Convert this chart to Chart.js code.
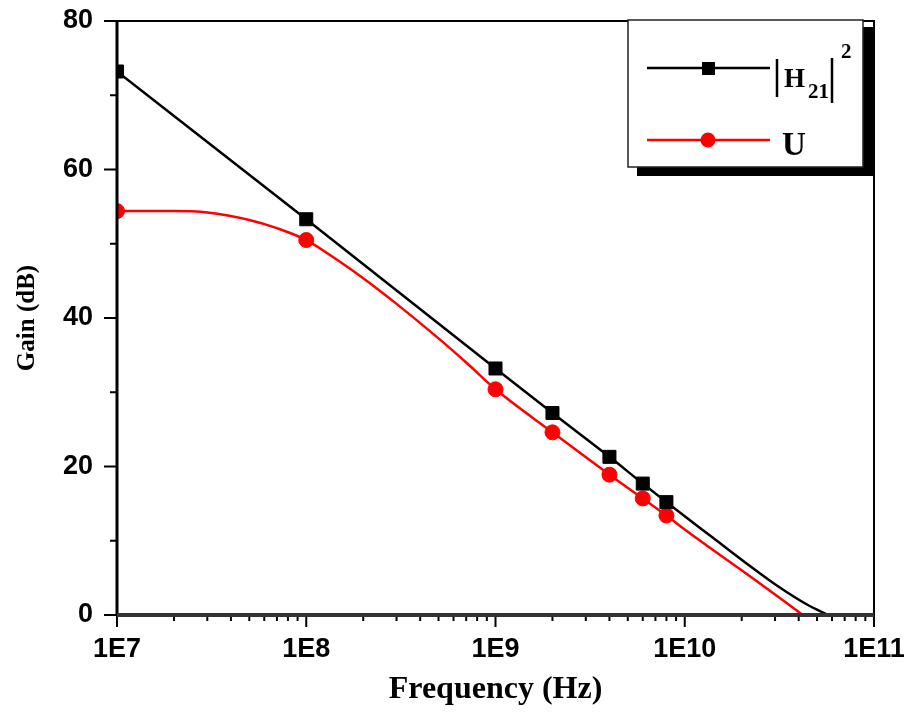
<!DOCTYPE html>
<html>
<head>
<meta charset="utf-8">
<script src="https://cdn.jsdelivr.net/npm/chart.js@4.4.0/dist/chart.umd.min.js"></script>
<style>
  body { margin: 0; background: #fff; }
  #wrap { width: 909px; height: 721px; }
</style>
</head>
<body>
<div id="wrap"><canvas id="gainChart" width="909" height="721"></canvas></div>
<script>
// Marker points (frequency in Hz, gain in dB)
const markerFreq = [1e7, 1e8, 1e9, 2e9, 4e9, 6e9, 8e9];
const h21Gain = [73.2, 53.3, 33.2, 27.2, 21.3, 17.7, 15.2];
const uGain = [54.4, 50.5, 30.4, 24.6, 18.9, 15.7, 13.4];

// Smooth curves
const h21CurveFreq = [1e7, 1e8, 1e9, 2e9, 4e9, 6e9, 8e9, 1e10, 1.41e10, 2.12e10, 3.18e10, 4.4e10, 5.73e10];
const h21CurveGain = [73.2, 53.3, 33.2, 27.2, 21.3, 17.7, 15.2, 13.3, 10.4, 6.95, 3.7, 1.45, 0];
const uCurveFreq = [1e7, 2e7, 3e7, 5e7, 7e7, 1e8, 1.5e8, 2e8, 3e8, 5e8, 7e8, 1e9, 2e9, 4e9, 6e9, 8e9, 1e10, 1.41e10, 2.12e10, 3.18e10, 4.2e10];
const uCurveGain = [54.4, 54.4, 54.2, 53.2, 52.1, 50.5, 47.6, 45.35, 41.9, 37.25, 34.0, 30.4, 24.6, 18.9, 15.7, 13.4, 11.5, 8.75, 5.55, 2.3, 0];

// Axis ticks
const xTickValues = [1e7, 1e8, 1e9, 1e10, 1e11];
const xTickLabels = ['1E7', '1E8', '1E9', '1E10', '1E11'];
const yTickValues = [0, 20, 40, 60, 80];
const yMinorTicks = [10, 30, 50, 70];

const sansBold = { family: "'Liberation Sans', Arial, sans-serif", size: 27, weight: 'bold' };
const serif = "'Liberation Serif', 'Times New Roman', serif";

function toPoints(xs, ys) {
    return xs.map((v, i) => ({ x: v, y: ys[i] }));
}

// Frame, outward tick marks and the boxed legend with shadow
const originFrame = {
    id: 'originFrame',
    afterDatasetsDraw(chart) {
        const { ctx, chartArea: a, scales: { x, y } } = chart;
        ctx.save();
        ctx.strokeStyle = '#000';
        ctx.lineWidth = 2;
        ctx.beginPath();
        xTickValues.forEach(v => {
            const px = x.getPixelForValue(v);
            ctx.moveTo(px, a.bottom);
            ctx.lineTo(px, a.bottom + 12);
        });
        xTickValues.slice(0, -1).forEach(d => {
            for (let m = 2; m <= 9; m++) {
                const px = x.getPixelForValue(d * m);
                ctx.moveTo(px, a.bottom);
                ctx.lineTo(px, a.bottom + 6);
            }
        });
        yTickValues.forEach(v => {
            const py = y.getPixelForValue(v);
            ctx.moveTo(a.left, py);
            ctx.lineTo(a.left - 13, py);
        });
        yMinorTicks.forEach(v => {
            const py = y.getPixelForValue(v);
            ctx.moveTo(a.left, py);
            ctx.lineTo(a.left - 7, py);
        });
        ctx.stroke();

        ctx.lineWidth = 2;
        ctx.strokeRect(a.left, a.top, a.width, a.height);
        ctx.lineWidth = 3;
        ctx.beginPath();
        ctx.moveTo(a.left, a.top);
        ctx.lineTo(a.left, a.bottom);
        ctx.stroke();
        ctx.strokeStyle = '#333';
        ctx.lineWidth = 4;
        ctx.beginPath();
        ctx.moveTo(a.left, a.bottom);
        ctx.lineTo(a.right, a.bottom);
        ctx.stroke();
        ctx.restore();
    },
    afterDraw(chart) {
        const ctx = chart.ctx;
        ctx.save();
        // shadow + box
        ctx.fillStyle = '#000';
        ctx.fillRect(637, 27, 238, 149);
        ctx.fillStyle = '#fff';
        ctx.fillRect(628, 20, 235, 147);
        ctx.strokeStyle = '#222';
        ctx.lineWidth = 1.5;
        ctx.strokeRect(628, 20, 235, 147);

        // |H21|^2 entry
        ctx.strokeStyle = '#000';
        ctx.lineWidth = 2.5;
        ctx.beginPath();
        ctx.moveTo(647, 68);
        ctx.lineTo(770, 68);
        ctx.stroke();
        ctx.fillStyle = '#000';
        ctx.fillRect(702, 62, 13, 13);

        ctx.lineWidth = 2.5;
        ctx.beginPath();
        ctx.moveTo(777, 59);
        ctx.lineTo(777, 97);
        ctx.moveTo(832, 58);
        ctx.lineTo(832, 103);
        ctx.stroke();
        ctx.textBaseline = 'alphabetic';
        ctx.textAlign = 'left';
        ctx.font = 'bold 27px ' + serif;
        ctx.fillText('H', 784, 87);
        ctx.font = 'bold 21px ' + serif;
        ctx.fillText('21', 808, 98);
        ctx.fillText('2', 841, 58);

        // U entry
        ctx.strokeStyle = '#ff0000';
        ctx.lineWidth = 2.5;
        ctx.beginPath();
        ctx.moveTo(647, 140);
        ctx.lineTo(770, 140);
        ctx.stroke();
        ctx.fillStyle = '#ff0000';
        ctx.beginPath();
        ctx.arc(708, 140, 7.5, 0, Math.PI * 2);
        ctx.fill();
        ctx.fillStyle = '#000';
        ctx.font = 'bold 33px ' + serif;
        ctx.fillText('U', 782, 155);
        ctx.restore();
    }
};

const ctx = document.getElementById('gainChart').getContext('2d');
new Chart(ctx, {
    type: 'line',
    data: {
        datasets: [
            {
                label: 'H21 curve',
                data: toPoints(h21CurveFreq, h21CurveGain),
                borderColor: '#000',
                borderWidth: 2.5,
                pointRadius: 0,
                cubicInterpolationMode: 'monotone'
            },
            {
                label: 'U curve',
                data: toPoints(uCurveFreq, uCurveGain),
                borderColor: '#ff0000',
                borderWidth: 2.5,
                pointRadius: 0,
                cubicInterpolationMode: 'monotone'
            },
            {
                label: '|H21|^2',
                data: toPoints(markerFreq, h21Gain),
                showLine: false,
                pointStyle: 'rect',
                pointRadius: 9.2,
                pointBackgroundColor: '#000',
                pointBorderColor: '#000',
                pointBorderWidth: 1
            },
            {
                label: 'U',
                data: toPoints(markerFreq, uGain),
                showLine: false,
                pointStyle: 'circle',
                pointRadius: 7.5,
                pointBackgroundColor: '#ff0000',
                pointBorderColor: '#ff0000',
                pointBorderWidth: 1
            }
        ]
    },
    options: {
        responsive: false,
        animation: false,
        layout: { padding: { top: 21, right: 35, left: 0, bottom: 0 } },
        scales: {
            x: {
                type: 'logarithmic',
                min: 1e7,
                max: 1e11,
                afterBuildTicks: s => { s.ticks = xTickValues.map(v => ({ value: v })); },
                afterFit: s => { s.height = 106; s.paddingLeft = 0; s.paddingRight = 0; },
                grid: { display: false, drawTicks: false },
                border: { display: false },
                ticks: {
                    padding: 18,
                    color: '#000',
                    font: sansBold,
                    maxRotation: 0,
                    callback: function(value) {
                        const i = xTickValues.indexOf(value);
                        return i >= 0 ? xTickLabels[i] : '';
                    }
                },
                title: {
                    display: true,
                    text: 'Frequency (Hz)',
                    color: '#000',
                    font: { family: serif, size: 32, weight: 'bold' },
                    padding: { top: 0, bottom: 12 }
                }
            },
            y: {
                min: 0,
                max: 80,
                afterBuildTicks: s => { s.ticks = yTickValues.map(v => ({ value: v })); },
                afterFit: s => { s.width = 117; s.paddingTop = 0; s.paddingBottom = 0; },
                grid: { display: false, drawTicks: false },
                border: { display: false },
                ticks: { padding: 24, color: '#000', font: sansBold },
                title: {
                    display: true,
                    text: 'Gain (dB)',
                    color: '#000',
                    font: { family: serif, size: 25, weight: 'bold' },
                    padding: { top: 13, bottom: 0 }
                }
            }
        },
        plugins: {
            legend: { display: false },
            tooltip: { enabled: false }
        }
    },
    plugins: [originFrame]
});
</script>
</body>
</html>
